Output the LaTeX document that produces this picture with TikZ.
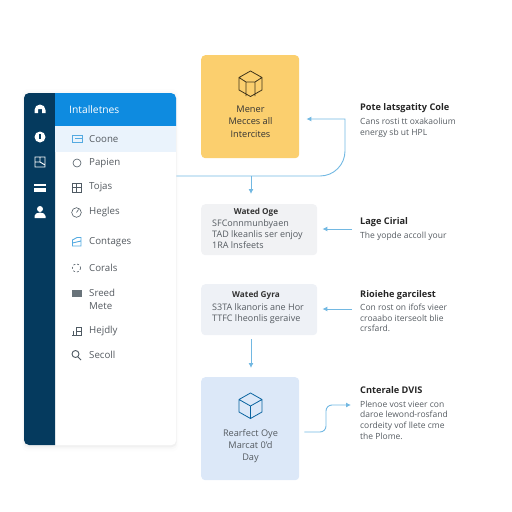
\documentclass[tikz,border=0pt]{standalone}
\usepackage{fontspec}
\setmainfont{Open Sans}
\setsansfont{Open Sans}
\usetikzlibrary{arrows.meta,positioning,calc,shadows}

\definecolor{navystrip}{HTML}{053A5E}
\definecolor{headblue}{HTML}{0E8BE0}
\definecolor{rowblue}{HTML}{EAF3FC}
\definecolor{linkblue}{HTML}{72B8E2}
\definecolor{memberyellow}{HTML}{FBCF6E}
\definecolor{resultblue}{HTML}{DCE8F8}
\definecolor{softgray}{HTML}{F1F2F4}
\definecolor{softblue}{HTML}{EEF1F6}
\definecolor{bodygray}{HTML}{555B61}
\definecolor{icongray}{HTML}{4F5A63}

\begin{document}
\begin{tikzpicture}[
  x=1pt, y=-1pt,
  font=\sffamily,
  softshadow/.style={
    drop shadow={shadow xshift=0pt, shadow yshift=-1pt, shadow scale=1.006, opacity=.03, fill=black},
    drop shadow={shadow xshift=0pt, shadow yshift=-1pt, shadow scale=1.016, opacity=.015, fill=black},
    drop shadow={shadow xshift=0pt, shadow yshift=-1pt, shadow scale=1.03, opacity=.008, fill=black}},
  card/.style={rounded corners=4pt, anchor=north west, inner sep=0pt, align=center},
  bigbox/.style={card, minimum width=98pt, minimum height=103pt},
  midbox/.style={card, minimum width=116pt, minimum height=51pt},
  rowlabel/.style={anchor=west, inner sep=0pt, align=left, text=bodygray, font=\fontsize{9.7}{13}\selectfont},
  boxtext/.style={align=center, inner sep=0pt, font=\fontsize{9.2}{12.4}\selectfont},
  midtext/.style={align=left, anchor=north west, inner sep=0pt, text=bodygray, font=\fontsize{9}{11}\selectfont},
  midhead/.style={anchor=center, inner sep=0pt, text=black!80, font=\fontsize{8.2}{9}\selectfont\bfseries},
  sidetext/.style={align=left, anchor=north west, inner sep=0pt, text=bodygray, font=\fontsize{8.5}{10.8}\selectfont},
  sidetitle/.style={anchor=west, inner sep=0pt, text=black!85, font=\fontsize{9.2}{10}\selectfont\bfseries},
  link/.style={-{Latex[length=5pt,width=5pt]}, draw=linkblue, line width=.9pt},
  railicon/.style={white, line width=.9pt},
  rowicon/.style={icongray, line width=.6pt}
]
\useasboundingbox (0,0) rectangle (512,512);

% left panel
\node[card, minimum width=152pt, minimum height=352pt, fill=white, rounded corners=5pt, softshadow] (panel) at (24,93) {};
\fill[navystrip] (55,93) [rounded corners=5pt] -- (24,93) -- (24,445) [sharp corners] -- (55,445) -- cycle;
\fill[headblue] (55,126) -- (55,93) [rounded corners=5pt] -- (176,93) [sharp corners] -- (176,126) -- cycle;
\fill[rowblue] (55,126) rectangle (176,152);
\node[anchor=west, inner sep=0pt, text=white, font=\fontsize{10.3}{11}\selectfont] (panelhead) at (69,110) {Intalletnes};

% rail icons
\fill[white] (34.5,110) arc[start angle=180, end angle=360, radius=5.5] -- (45.5,113) -- (42,113) -- (42,109) -- (38,109) -- (38,113) -- (34.5,113) -- cycle;
\fill[white] (40,137) circle[radius=5.5];
\fill[navystrip] (39.2,134) rectangle (40.8,139);
\draw[railicon] (35,157) rectangle (45,167) (35,162) -- (40,162) -- (40,157) (40,162) -- (45,165);
\fill[white] (34,184) rectangle (46,192);
\fill[navystrip] (34,186) rectangle (46,187.5);
\fill[white] (40,209) circle[radius=3] (34.5,218) -- (34.5,216) arc[start angle=180, end angle=360, x radius=5.5, y radius=3.5] -- (45.5,218) -- cycle;

% rows
\node[rowlabel] (coone) at (89,139) {Coone};
\node[rowlabel] (papien) at (89,163) {Papien};
\node[rowlabel] (tojas) at (89,187) {Tojas};
\node[rowlabel] (hegles) at (89,212) {Hegles};
\node[rowlabel] (contages) at (89,242) {Contages};
\node[rowlabel] (corals) at (89,268) {Corals};
\node[rowlabel] (sreed) at (89,299.5) {Sreed\\Mete};
\node[rowlabel] (hejdly) at (89,331) {Hejdly};
\node[rowlabel] (secoll) at (89,355) {Secoll};

% row icons
\draw[draw=linkblue!70!headblue, line width=.9pt] (72,135) rectangle (82,142) (75,138.5) -- (82,138.5);
\draw[rowicon] (77,163) circle[radius=4];
\draw[rowicon] (72.5,183) rectangle (81,192) (76.7,183) -- (76.7,192) (72.5,187.5) -- (81,187.5);
\draw[rowicon] (76.5,212.5) circle[radius=4.8] (76.5,212.5) -- (78.5,209.5);
\draw[draw=linkblue!70!headblue, line width=.9pt] (72.5,246) -- (72.5,240) -- (77,237.5) -- (81,237.5) -- (81,246) -- cycle (72.5,243) -- (81,241);
\draw[rowicon, dash pattern=on 2pt off 2pt] (76.5,268) circle[radius=4.2];
\fill[icongray!85] (72,290) rectangle (81.5,297);
\draw[rowicon] (73,331) -- (73,335) (76,327) rectangle (81,335) (76,331) -- (81,331) (72,335.5) -- (82,335.5);
\draw[rowicon, line width=.9pt] (75.5,354) circle[radius=3.5] (78,357) -- (81,360);

% middle column
\node[bigbox, fill=memberyellow] (memberbox) at (201,55) {};
\node[midbox, fill=softgray] (watedone) at (201,204) {};
\node[midbox, fill=softblue] (watedtwo) at (201,284) {};
\node[bigbox, fill=resultblue] (resultbox) at (201,377) {};

% cubes
\draw[draw=black!75!memberyellow, line width=.8pt, line join=round]
  (250.5,71) -- (262,77.5) -- (262,90) -- (250.5,96.5) -- (239,90) -- (239,77.5) -- cycle
  (239,77.5) -- (246,82) -- (246,96) (262,77.5) -- (255,82) -- (255,96) (246,82) -- (255,82);
\draw[draw=headblue!50!navystrip, line width=.8pt, line join=round]
  (250.5,393) -- (262,399.5) -- (262,412) -- (250.5,418.5) -- (239,412) -- (239,399.5) -- cycle
  (239,399.5) -- (250.5,406) -- (262,399.5) (250.5,406) -- (250.5,418.5);

\node[boxtext, text=black!80] (membertext) at (250.5,121.5) {Mener\\Mecces all\\Intercites};
\node[boxtext, text=bodygray] (resulttext) at (250.5,446) {Rearfect Oye\\Marcat 0'd\\Day};

\node[midhead] (watedonehead) at (256,212) {Wated Oge};
\node[midtext] (watedonetext) at (212,219.5) {SFConnmunbyaen\\TAD lkeanlis ser enjoy\\1RA lnsfeets};
\node[midhead] (watedtwohead) at (256,295) {Wated Gyra};
\node[midtext] (watedtwotext) at (212,303.5) {S3TA lkanoris ane Hor\\TTFC lheonlis geraive};

% right column
\node[sidetitle] (potehead) at (360,108) {Pote latsgatity Cole};
\node[sidetext] (potetext) at (360,118) {Cans rosti tt oxakaolium\\energy sb ut HPL};
\node[sidetitle] (lagehead) at (360,222) {Lage Cirial};
\node[sidetext] (lagetext) at (360,231.5) {The yopde accoll your};
\node[sidetitle] (riohead) at (360,295) {Rioiehe garcilest};
\node[sidetext] (riotext) at (360,303.5) {Con rost on ifofs vieer\\croaabo iterseolt blie\\crsfard.};
\node[sidetitle] (cnterhead) at (360,390) {Cnterale DVIS};
\node[sidetext] (cntertext) at (360,400.5) {Plenoe vost vieer con\\daroe lewond-rosfand\\cordeity vof llete cme\\the Plome.};

% connectors
\coordinate (bendtop) at (345,119);
\coordinate (branch) at (251,176);
\coordinate (linkone) at (352,229);
\coordinate (linktwo) at (352,309);
\coordinate (stepmid) at (326,432);
\coordinate (steptop) at (326,405);
\draw[link] (panel.east |- branch) [rounded corners=25pt] -- (bendtop |- branch) [sharp corners] -- (bendtop) -- ($(memberbox.east |- bendtop)+(7,0)$);
\draw[link] (branch) -- ($(branch |- watedone.north)+(0,-10)$);
\draw[link] (linkone) -- ($(watedone.east |- linkone)+(5,0)$);
\draw[link] (linktwo) -- ($(watedtwo.east |- linktwo)+(5,0)$);
\draw[link] ($(watedtwo.south -| branch)+(0,4)$) -- ($(resultbox.north -| branch)+(0,-9)$);
\draw[link, rounded corners=6pt] ($(resultbox.east |- stepmid)+(5,0)$) -- (stepmid) -- (steptop) -- ($(cnterhead.west |- steptop)+(-9,0)$);
\end{tikzpicture}
\end{document}
